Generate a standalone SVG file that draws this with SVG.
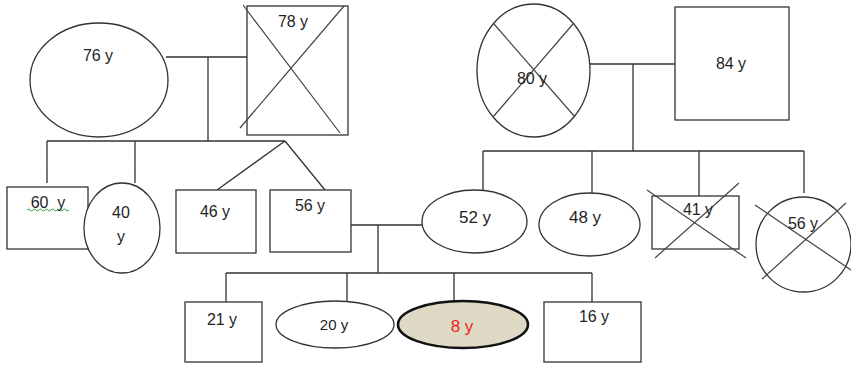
<svg xmlns="http://www.w3.org/2000/svg" width="851" height="372" viewBox="0 0 851 372">
<style>
  .s{fill:#fff;stroke:#333;stroke-width:1.3}
  .x{stroke:#444;stroke-width:1.2;fill:none}
  .c{stroke:#333;stroke-width:1.3;fill:none}
  text{font-family:"Liberation Sans",Arial,sans-serif;font-size:16px;fill:#1f1f1f;text-anchor:middle}
</style>
<rect width="851" height="372" fill="#fff"/>
<g id="connectors" class="c">
  <path d="M166,57H250M208,57V141M47,141H285M47,141V183M135,141V183M285,141L217,190M285,141L325,190"/>
  <path d="M590,64H675M633,64V151M483,151H804M483,151V191M592,151V193M699,151V197M804,151V193"/>
  <path d="M351,225H422M378,225V273M226,273H592M226,273V302M347,273V301M454,273V302M592,273V302"/>
</g>
<g id="n76"><ellipse class="s" cx="99" cy="80" rx="69" ry="57"/><text x="98" y="61">76 y</text></g>
<g id="n78"><rect class="s" x="247" y="6" width="101" height="129"/><path class="x" d="M243,5L340,133M344,6L240,128"/><text x="293" y="27">78 y</text></g>
<g id="n80"><ellipse class="s" cx="533.5" cy="70.5" rx="56.5" ry="66.5"/><path class="x" d="M494,24L575,117M573,24L493,117"/><text x="532" y="84">80 y</text></g>
<g id="n84"><rect class="s" x="675" y="7" width="114" height="113"/><text x="731" y="69">84 y</text></g>
<g id="n60"><rect class="s" x="7" y="187" width="81" height="62"/><text x="48" y="208" xml:space="preserve" style="white-space:pre">60  y</text><path d="M27,210q1.5,-2 3,0t3,0t3,0t3,0t3,0t3,0t3,0t3,0t3,0t3,0t3,0t3,0t3,0t3,0" fill="none" stroke="#3c9a3c" stroke-width="1"/></g>
<g id="n40"><ellipse class="s" cx="122" cy="228" rx="38" ry="45"/><text x="121" y="218">40</text><text x="121" y="242">y</text></g>
<g id="n46"><rect class="s" x="176" y="190" width="80" height="63"/><text x="215" y="217">46 y</text></g>
<g id="n56a"><rect class="s" x="270" y="190" width="81" height="62"/><text x="310" y="211">56 y</text></g>
<g id="n52"><ellipse class="s" cx="474.5" cy="221.5" rx="52.5" ry="31.5"/><text x="475" y="223" style="font-size:17px">52 y</text></g>
<g id="n48"><ellipse class="s" cx="589.5" cy="224.5" rx="50.5" ry="31.5"/><text x="585" y="223" style="font-size:17px">48 y</text></g>
<g id="n41"><rect class="s" x="652" y="196" width="87" height="53"/><path class="x" d="M647,190L746,258M739,183L655,258"/><text x="698" y="215">41 y</text></g>
<g id="n56b"><circle class="s" cx="803.5" cy="244.5" r="47.5"/><path class="x" d="M755,205L851,270M846,203L762,279"/><text x="803" y="229">56 y</text></g>
<g id="n21"><rect class="s" x="185" y="302" width="77" height="60"/><text x="222" y="325">21 y</text></g>
<g id="n20"><ellipse class="s" cx="335" cy="324.5" rx="59" ry="23.5"/><text x="334" y="330" style="font-size:15px">20 y</text></g>
<g id="n8"><ellipse cx="463" cy="324.5" rx="65" ry="23.5" fill="#ddd9c4" stroke="#111" stroke-width="2.6"/><text x="462" y="332" style="font-size:17px;fill:#f01e1e">8 y</text></g>
<g id="n16"><rect class="s" x="544" y="302" width="97" height="60"/><text x="594" y="322">16 y</text></g>
</svg>
